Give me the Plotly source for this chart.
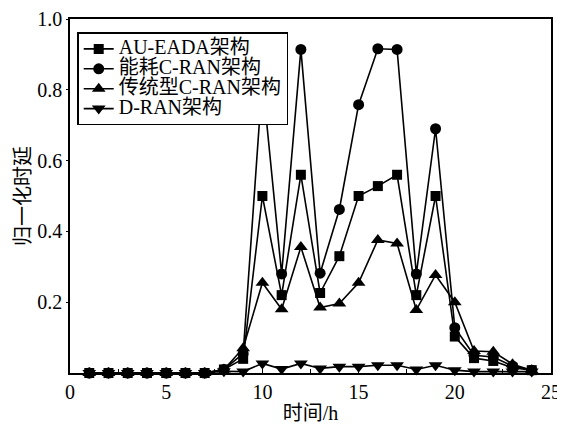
import plotly.graph_objects as go

hours = list(range(1, 25))
au_eada = [0, 0, 0, 0, 0, 0, 0, 0.01, 0.04, 0.50, 0.22, 0.56, 0.226, 0.33, 0.50, 0.528, 0.56, 0.22, 0.50, 0.103, 0.042, 0.034, 0.015, 0.008]
energy_cran = [0, 0, 0, 0, 0, 0, 0, 0.01, 0.055, 0.83, 0.28, 0.914, 0.282, 0.462, 0.758, 0.916, 0.914, 0.28, 0.69, 0.128, 0.05, 0.045, 0.02, 0.008]
trad_cran = [0, 0, 0, 0, 0, 0, 0, 0.01, 0.07, 0.255, 0.18, 0.356, 0.185, 0.196, 0.255, 0.376, 0.366, 0.178, 0.277, 0.20, 0.062, 0.06, 0.025, 0.008]
d_ran = [0, 0, 0, 0, 0, 0, 0, 0.005, 0.004, 0.027, 0.011, 0.027, 0.013, 0.018, 0.018, 0.022, 0.022, 0.01, 0.022, 0.008, 0.004, 0.004, 0.004, 0.004]

names = ["AU-EADA架构", "能耗C-RAN架构", "传统型C-RAN架构", "D-RAN架构"]
series = [au_eada, energy_cran, trad_cran, d_ran]
symbols = ["square", "circle", "triangle-up", "triangle-down"]
sizes = [10, 11, 12, 12]

FONT = "Liberation Serif, Noto Sans CJK SC, serif"
NUM_FONT = "Liberation Serif"

fig = go.Figure()
for name, ys, sym, sz in zip(names, series, symbols, sizes):
    fig.add_trace(go.Scatter(
        x=hours, y=ys, mode="lines+markers",
        name='<span style="font-size:20px">' + name + '</span>',
        line=dict(color="black", width=1.6),
        marker=dict(symbol=sym, size=sz, color="black"),
        cliponaxis=False,
    ))

fig.update_layout(
    width=557, height=418,
    margin=dict(l=62, r=14, t=11, b=53, autoexpand=False),
    paper_bgcolor="white", plot_bgcolor="white",
    font=dict(family=FONT, size=20, color="black"),
    showlegend=True,
    legend=dict(
        x=0.015, y=0.962, xanchor="left", yanchor="top",
        bgcolor="white", bordercolor="black", borderwidth=1.5,
        font=dict(family=FONT, size=13, color="black"),
        tracegroupgap=0, itemwidth=30,
    ),
    xaxis=dict(
        range=[0, 25], tickvals=[0, 5, 10, 15, 20, 25],
        showgrid=False, zeroline=False, automargin=False,
        ticklabeloverflow="allow",
        showline=True, linecolor="black", linewidth=1.5, mirror=True,
        ticks="inside", ticklen=4, tickcolor="black",
        minor=dict(ticks="inside", dtick=2.5, ticklen=4, tickcolor="black"),
        tickfont=dict(family=NUM_FONT, size=20),
        title=dict(text="时间/h", font=dict(family=FONT, size=20), standoff=4),
    ),
    yaxis=dict(
        range=[0, 1.0], tickvals=[0.2, 0.4, 0.6, 0.8, 1.0],
        ticktext=["0.2", "0.4", "0.6", "0.8", "1.0"],
        showgrid=False, zeroline=False, automargin=False,
        ticklabeloverflow="allow",
        showline=True, linecolor="black", linewidth=1.5, mirror=True,
        ticks="outside", ticklen=2, tickcolor="black",
        tickfont=dict(family=NUM_FONT, size=20),
        title=dict(text="归一化时延", font=dict(family=FONT, size=20), standoff=1),
    ),
)

fig.write_html("out.html")
